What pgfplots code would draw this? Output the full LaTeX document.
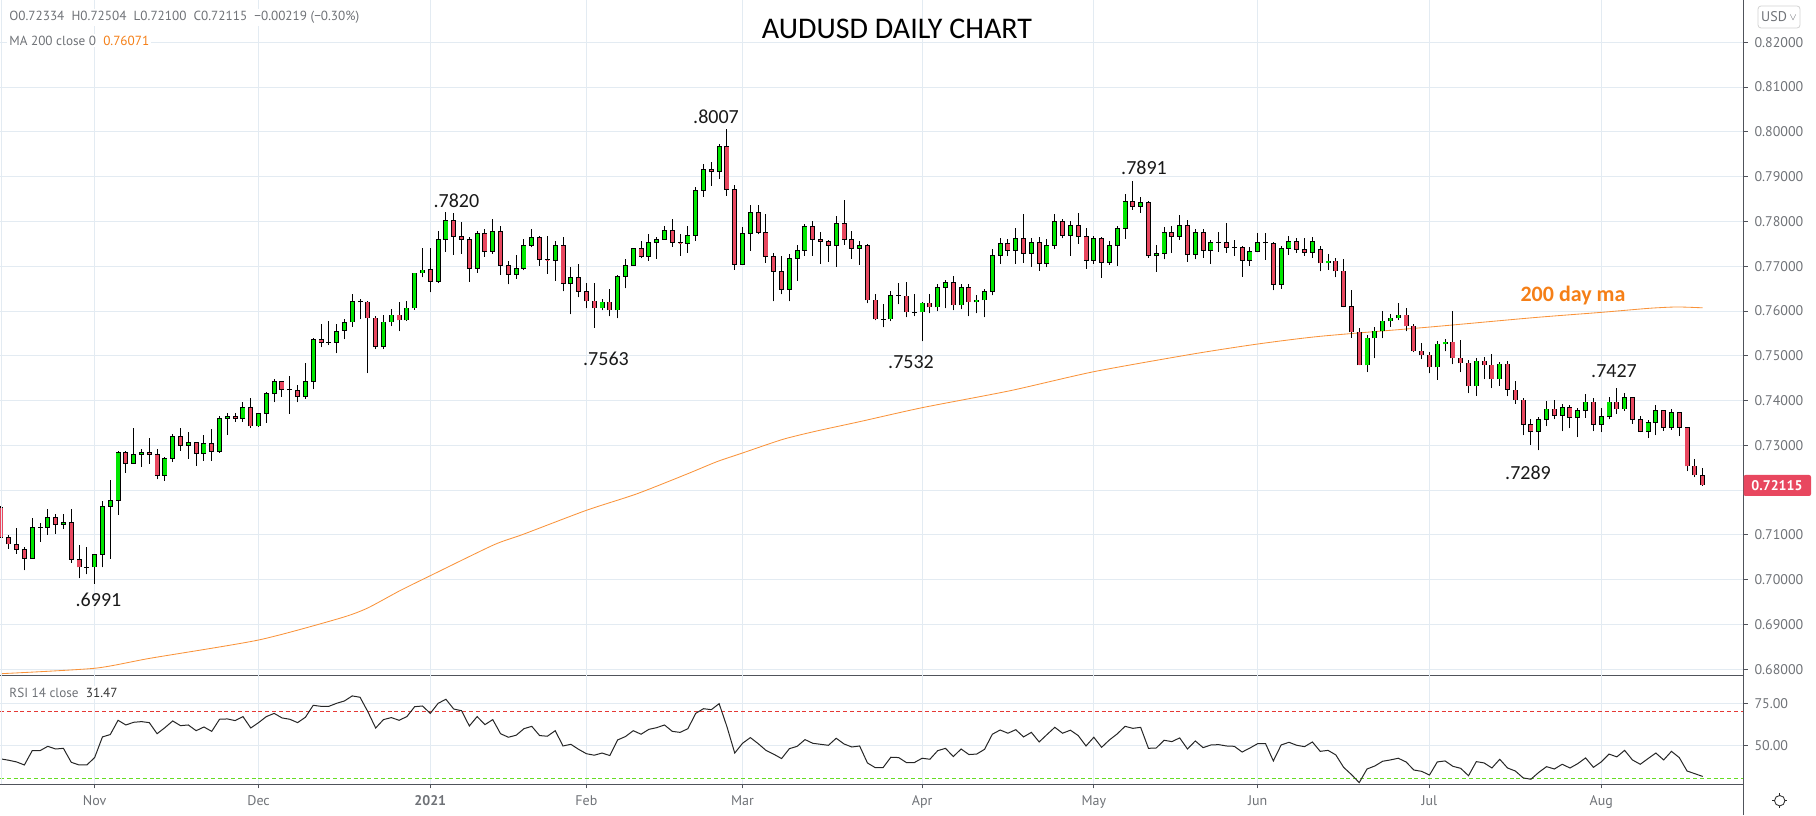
\documentclass[border=0pt]{standalone}
\usepackage{fontspec}
\usepackage{pgfplots}
\usepackage{pgfplotstable}
\pgfplotsset{compat=1.18}
\setmainfont{PT Sans}
\newfontfamily\calib{Carlito}
\definecolor{gridc}{HTML}{E3EBF2}
\definecolor{axisc}{HTML}{50535B}
\definecolor{textc}{HTML}{6F7277}
\definecolor{upc}{HTML}{00E600}
\definecolor{downc}{HTML}{E8475F}
\definecolor{mac}{HTML}{F9933A}
\definecolor{malab}{HTML}{F57F17}
\definecolor{obc}{HTML}{E53935}
\definecolor{osc}{HTML}{66DD22}

% i = trading day counted from the 1 Jan 2021 bar
\pgfplotstableread{
i o h l c
-55 0.71609 0.71646 0.70948 0.70948
-54 0.70948 0.70993 0.70689 0.70800
-53 0.70793 0.71149 0.70585 0.70681
-52 0.70681 0.70726 0.70206 0.70481
-51 0.70481 0.71371 0.70481 0.71171
-50 0.71171 0.71260 0.70852 0.71171
-49 0.71171 0.71572 0.71000 0.71394
-48 0.71394 0.71460 0.71030 0.71238
-47 0.71238 0.71460 0.71141 0.71282
-46 0.71282 0.71572 0.70384 0.70459
-45 0.70459 0.70770 0.70028 0.70281
-44 0.70281 0.70726 0.70117 0.70281
-43 0.70281 0.70570 0.69910 0.70570
-42 0.70570 0.71750 0.70273 0.71638
-41 0.71638 0.72225 0.70473 0.71772
-40 0.71772 0.72885 0.71453 0.72840
-39 0.72840 0.72863 0.72388 0.72596
-38 0.72596 0.73397 0.72596 0.72796
-37 0.72796 0.72929 0.72521 0.72840
-36 0.72840 0.73174 0.72588 0.72796
-35 0.72796 0.72929 0.72239 0.72328
-34 0.72328 0.72729 0.72210 0.72707
-33 0.72707 0.73263 0.72633 0.73197
-32 0.73197 0.73397 0.72878 0.72996
-31 0.72996 0.73308 0.72699 0.73063
-30 0.73063 0.73063 0.72544 0.72818
-29 0.72818 0.73241 0.72655 0.73041
-28 0.73041 0.73375 0.72655 0.72863
-27 0.72863 0.73664 0.72833 0.73597
-26 0.73597 0.73731 0.73234 0.73642
-25 0.73642 0.73731 0.73531 0.73597
-24 0.73597 0.73976 0.73531 0.73842
-23 0.73842 0.74065 0.73390 0.73434
-22 0.73434 0.73731 0.73419 0.73709
-21 0.73709 0.74198 0.73501 0.74154
-20 0.74154 0.74488 0.73968 0.74421
-19 0.74421 0.74421 0.74080 0.74243
-18 0.74243 0.74540 0.73701 0.74235
-17 0.74221 0.74354 0.73968 0.74087
-16 0.74087 0.74844 0.74042 0.74421
-15 0.74421 0.75400 0.74258 0.75363
-14 0.75363 0.75712 0.75193 0.75304
-13 0.75304 0.75786 0.75237 0.75300
-12 0.75304 0.75712 0.75059 0.75549
-11 0.75564 0.75823 0.75371 0.75749
-10 0.75757 0.76380 0.75653 0.76217
-9 0.76209 0.76269 0.75816 0.76200
-8 0.76202 0.76220 0.74614 0.75846
-7 0.75846 0.75890 0.75148 0.75200
-6 0.75200 0.75920 0.75148 0.75757
-5 0.75757 0.76046 0.75660 0.75912
-4 0.75912 0.76202 0.75549 0.75801
-3 0.75801 0.76224 0.75779 0.76068
-2 0.76068 0.76847 0.76024 0.76847
-1 0.76847 0.77404 0.76751 0.76914
0 0.76932 0.77399 0.76414 0.76666
1 0.76666 0.77777 0.76621 0.77599
2 0.77599 0.78200 0.77325 0.78022
3 0.78022 0.78177 0.77258 0.77666
4 0.77666 0.77977 0.77281 0.77599
5 0.77599 0.77644 0.76658 0.76955
6 0.76955 0.77777 0.76858 0.77733
7 0.77733 0.77822 0.77214 0.77325
8 0.77333 0.78044 0.77281 0.77777
9 0.77777 0.77888 0.76814 0.77021
10 0.77021 0.77110 0.76592 0.76821
11 0.76821 0.77251 0.76725 0.76955
12 0.76955 0.77599 0.76910 0.77466
13 0.77466 0.77822 0.77421 0.77644
14 0.77644 0.77666 0.77014 0.77155
15 0.77155 0.77681 0.76836 0.77140
16 0.77132 0.77555 0.76680 0.77466
17 0.77466 0.77644 0.76436 0.76621
18 0.76621 0.76977 0.75925 0.76755
19 0.76755 0.77044 0.76303 0.76443
20 0.76443 0.76621 0.76058 0.76221
21 0.76221 0.76621 0.75630 0.76065
22 0.76065 0.76266 0.76014 0.76199
23 0.76199 0.76488 0.75880 0.76021
24 0.76021 0.76799 0.75836 0.76777
25 0.76777 0.77155 0.76503 0.77021
26 0.77021 0.77399 0.77021 0.77399
27 0.77399 0.77555 0.77177 0.77221
28 0.77221 0.77710 0.77125 0.77533
29 0.77533 0.77644 0.77170 0.77599
30 0.77599 0.77888 0.77599 0.77799
31 0.77799 0.78044 0.77436 0.77533
32 0.77533 0.77710 0.77236 0.77518
33 0.77510 0.77888 0.77303 0.77688
34 0.77688 0.78778 0.77570 0.78689
35 0.78689 0.79289 0.78548 0.79155
36 0.79155 0.79333 0.78792 0.79111
37 0.79111 0.79733 0.78948 0.79667
38 0.79667 0.80070 0.78577 0.78711
39 0.78711 0.78822 0.76925 0.77044
40 0.77044 0.77866 0.77044 0.77733
41 0.77733 0.78377 0.77347 0.78200
42 0.78200 0.78377 0.77710 0.77755
43 0.77755 0.78155 0.77081 0.77221
44 0.77221 0.77288 0.76214 0.76888
45 0.76888 0.77221 0.76369 0.76488
46 0.76488 0.77266 0.76214 0.77177
47 0.77177 0.77466 0.76680 0.77355
48 0.77355 0.77933 0.77236 0.77888
49 0.77888 0.77999 0.77236 0.77599
50 0.77599 0.77755 0.77058 0.77555
51 0.77555 0.77577 0.77103 0.77466
52 0.77466 0.78111 0.76992 0.77955
53 0.77955 0.78489 0.77481 0.77599
54 0.77599 0.77777 0.77170 0.77399
55 0.77399 0.77555 0.77036 0.77466
56 0.77466 0.77488 0.76169 0.76243
57 0.76243 0.76377 0.75791 0.75821
58 0.75821 0.76162 0.75635 0.75821
59 0.75821 0.76443 0.75776 0.76354
60 0.76354 0.76621 0.76147 0.76347
61 0.76332 0.76643 0.75858 0.75976
62 0.75976 0.76376 0.75880 0.75976
63 0.75976 0.76199 0.75320 0.76176
64 0.76176 0.76376 0.75947 0.76087
65 0.76087 0.76599 0.75991 0.76532
66 0.76532 0.76688 0.76058 0.76643
67 0.76643 0.76777 0.76013 0.76132
68 0.76132 0.76599 0.76036 0.76532
69 0.76532 0.76599 0.75880 0.76199
70 0.76199 0.76354 0.75947 0.76243
71 0.76243 0.76488 0.75858 0.76443
72 0.76443 0.77377 0.76347 0.77243
73 0.77243 0.77621 0.77058 0.77510
74 0.77510 0.77599 0.77236 0.77355
75 0.77355 0.77844 0.77058 0.77621
76 0.77621 0.78155 0.77080 0.77288
77 0.77288 0.77621 0.76991 0.77532
78 0.77532 0.77644 0.76903 0.77066
79 0.77066 0.77599 0.76977 0.77466
80 0.77466 0.78155 0.77392 0.77999
81 0.77999 0.78044 0.77621 0.77688
82 0.77688 0.77999 0.77236 0.77910
83 0.77910 0.78177 0.77503 0.77666
84 0.77666 0.77844 0.76947 0.77132
85 0.77132 0.77666 0.77058 0.77621
86 0.77621 0.77644 0.76747 0.77088
87 0.77088 0.77555 0.77036 0.77466
88 0.77466 0.77888 0.77014 0.77844
89 0.77844 0.78622 0.77614 0.78444
90 0.78444 0.78910 0.78266 0.78333
91 0.78333 0.78555 0.78199 0.78422
92 0.78422 0.78466 0.77192 0.77236
93 0.77236 0.77466 0.76880 0.77288
94 0.77288 0.77866 0.77155 0.77755
95 0.77755 0.77888 0.77303 0.77666
96 0.77666 0.78133 0.77592 0.77910
97 0.77910 0.78021 0.77103 0.77266
98 0.77266 0.77821 0.77155 0.77755
99 0.77755 0.77821 0.77192 0.77355
100 0.77355 0.77577 0.77058 0.77532
101 0.77532 0.77755 0.77325 0.77532
102 0.77532 0.77955 0.77303 0.77421
103 0.77421 0.77577 0.77236 0.77421
104 0.77421 0.77444 0.76769 0.77132
105 0.77132 0.77421 0.77014 0.77332
106 0.77332 0.77732 0.77310 0.77532
107 0.77532 0.77732 0.77147 0.77518
108 0.77510 0.77532 0.76458 0.76599
109 0.76599 0.77444 0.76502 0.77399
110 0.77399 0.77666 0.77258 0.77555
111 0.77555 0.77621 0.77303 0.77377
112 0.77377 0.77621 0.77236 0.77310
113 0.77310 0.77644 0.77192 0.77555
114 0.77367 0.77456 0.76884 0.77070
115 0.77070 0.77278 0.76921 0.77114
116 0.77114 0.77189 0.76750 0.76891
117 0.76891 0.77166 0.76082 0.76104
118 0.76104 0.76468 0.75398 0.75532
119 0.75532 0.75621 0.74789 0.74796
120 0.74796 0.75465 0.74633 0.75398
121 0.75398 0.75643 0.74945 0.75554
122 0.75554 0.76000 0.75391 0.75777
123 0.75777 0.75933 0.75651 0.75844
124 0.75844 0.76178 0.75799 0.75911
125 0.75911 0.76067 0.75547 0.75666
126 0.75666 0.75710 0.75079 0.75108
127 0.75108 0.75287 0.74923 0.75019
128 0.75019 0.75086 0.74610 0.74752
129 0.74752 0.75331 0.74462 0.75264
130 0.75264 0.75376 0.75101 0.75309
131 0.75309 0.76000 0.74811 0.74952
132 0.74952 0.75353 0.74633 0.74841
133 0.74841 0.74908 0.74165 0.74328
134 0.74328 0.74952 0.74105 0.74885
135 0.74885 0.74975 0.74477 0.74796
136 0.74796 0.75041 0.74276 0.74484
137 0.74484 0.74863 0.74328 0.74819
138 0.74819 0.74885 0.74098 0.74246
139 0.74239 0.74440 0.73927 0.74016
140 0.74016 0.74061 0.73228 0.73459
141 0.73459 0.73593 0.73013 0.73303
142 0.73303 0.73637 0.72890 0.73570
143 0.73570 0.73994 0.73429 0.73815
144 0.73815 0.74016 0.73585 0.73659
145 0.73659 0.73927 0.73318 0.73838
146 0.73838 0.73905 0.73385 0.73615
147 0.73615 0.73838 0.73184 0.73771
148 0.73771 0.74150 0.73615 0.73971
149 0.73971 0.74061 0.73318 0.73459
150 0.73459 0.73838 0.73295 0.73637
151 0.73637 0.74083 0.73578 0.73971
152 0.73971 0.74280 0.73704 0.73815
153 0.73815 0.74172 0.73771 0.74061
154 0.74061 0.74083 0.73481 0.73570
155 0.73570 0.73659 0.73303 0.73303
156 0.73303 0.73570 0.73162 0.73503
157 0.73503 0.73905 0.73228 0.73771
158 0.73771 0.73771 0.73325 0.73392
159 0.73392 0.73815 0.73347 0.73726
160 0.73726 0.73749 0.73206 0.73392
161 0.73392 0.73414 0.72426 0.72537
162 0.72537 0.72701 0.72292 0.72337
163 0.72334 0.72504 0.72100 0.72115
}\candles

\pgfplotstableread{
i ma
-55 0.67902
-43 0.68023
-35.9 0.68246
-22 0.68654
-11.6 0.69139
-8.1 0.69362
-3.9 0.69755
0 0.70090
8.1 0.70776
11.9 0.71014
20 0.71550
26.4 0.71914
32.8 0.72354
36.7 0.72635
40 0.72830
45.2 0.73136
49.5 0.73321
55 0.73529
63 0.73841
74.3 0.74221
85 0.74645
97.7 0.75040
106 0.75263
114 0.75435
128.1 0.75643
141.3 0.75851
150.1 0.75971
156.2 0.76061
159.7 0.76090
163 0.76071
}\madata

\pgfplotstableread{
i rsi
-55 41.9
-54 41.1
-53 40.1
-52 38.3
-51 46.8
-50 46.8
-49 49.4
-48 47.8
-47 48.2
-46 39.9
-45 38.3
-44 38.3
-43 42.7
-42 55.0
-41 56.4
-40 64.9
-39 62.1
-38 63.7
-37 64.1
-36 63.5
-35 56.9
-34 60.5
-33 64.5
-32 61.7
-31 62.1
-30 58.7
-29 60.9
-28 58.3
-27 65.5
-26 65.7
-25 64.7
-24 67.1
-23 60.3
-22 63.5
-21 67.1
-20 69.0
-19 66.3
-18 65.5
-17 63.5
-16 66.7
-15 73.8
-14 73.2
-13 73.2
-12 75.0
-11 76.4
-10 79.4
-9 78.6
-8 70.0
-7 60.3
-6 65.3
-5 66.5
-4 64.9
-3 67.1
-2 73.0
-1 73.4
0 69.0
1 75.0
2 77.4
3 71.6
4 70.6
5 61.5
6 67.1
7 62.3
8 65.3
9 56.9
10 54.8
11 56.0
12 59.9
13 61.3
14 55.8
15 55.4
16 58.7
17 49.6
18 50.6
19 47.6
20 45.0
21 44.1
22 45.4
23 43.9
24 53.2
25 55.2
26 58.7
27 56.6
28 59.5
29 60.5
30 62.1
31 58.3
32 57.7
33 59.9
34 69.0
35 71.8
36 71.2
37 74.8
38 61.1
39 45.4
40 51.2
41 54.6
42 51.0
43 47.0
44 44.7
45 42.1
46 48.0
47 49.4
48 53.4
49 51.2
50 50.6
51 50.0
52 54.2
53 50.8
54 49.0
55 49.6
56 39.5
57 36.7
58 36.7
59 42.9
60 42.7
61 39.7
62 39.7
63 42.3
64 41.7
65 46.8
66 48.2
67 43.3
68 47.8
69 44.5
70 44.8
71 47.6
72 56.6
73 59.1
74 57.2
75 59.3
76 55.0
77 57.7
78 52.0
79 56.4
80 60.7
81 57.2
82 59.0
83 55.8
84 49.6
85 54.8
86 48.8
87 53.2
88 56.8
89 61.3
90 60.1
91 60.7
92 48.2
93 48.4
94 53.0
95 52.2
96 54.4
97 47.8
98 52.6
99 48.6
100 50.2
101 50.4
102 49.6
103 49.4
104 46.0
105 48.4
106 51.0
107 51.0
108 40.7
109 50.2
110 51.8
111 50.0
112 49.2
113 52.0
114 46.4
115 47.0
116 44.3
117 36.9
118 32.6
119 27.8
120 35.9
121 37.7
122 40.5
123 41.3
124 42.3
125 40.1
126 35.3
127 34.5
128 32.3
129 40.1
130 40.7
131 37.5
132 36.3
133 31.9
134 40.3
135 39.5
136 36.5
137 41.7
138 36.5
139 34.7
140 30.6
141 29.8
142 33.9
143 37.3
144 35.9
145 38.7
146 36.5
147 39.1
148 42.5
149 36.9
150 40.1
151 44.8
152 43.1
153 47.0
154 41.3
155 38.7
156 42.1
157 45.4
158 41.3
159 46.4
160 42.7
161 34.7
162 33.1
163 31.47
}\rsidata

\pgfplotsset{
  pane/.style={
    scale only axis, width=871.75pt, anchor=south west,
    xmin=-55.125, xmax=168.23,
    axis x line=bottom, axis y line=right,
    axis line style={-, color=axisc, line width=0.6pt},
    grid=major, grid style={gridc, line width=0.5pt},
    xtick={-43,-22,0,20,40,63,85,106,128,150},
    tick align=outside, major tick length=2pt,
    tick style={color=axisc, line width=0.5pt},
    tick label style={font=\fontsize{7}{8}\selectfont, text=textc},
    clip=true,
  },
  nomark/.style={only marks, mark size=0pt, mark options={draw=none, fill=none}},
  wick/.style={nomark,
    error bars/.cd, y dir=plus, y explicit, error mark=none,
    error bar style={black, line width=0.5pt}},
  shell/.style={nomark,
    error bars/.cd, y dir=plus, y explicit, error mark=none,
    error bar style={black, line width=2.5pt}},
  fillup/.style={nomark,
    error bars/.cd, y dir=plus, y explicit, error mark=none,
    error bar style={upc, line width=1.6pt}},
  filldn/.style={nomark,
    error bars/.cd, y dir=plus, y explicit, error mark=none,
    error bar style={downc, line width=1.6pt}},
}

\begin{document}
\begin{tikzpicture}
\useasboundingbox (0,0) rectangle (908pt,407.5pt);

% price pane
\begin{axis}[pane, at={(0pt,69.85pt)}, height=337.65pt,
    ymin=0.67866, ymax=0.82944,
    ytick={0.68,0.69,0.70,0.71,0.72,0.73,0.74,0.75,0.76,0.77,0.78,0.79,0.80,0.81,0.82},
    yticklabels={0.68000,0.69000,0.70000,0.71000,,0.73000,0.74000,0.75000,0.76000,0.77000,0.78000,0.79000,0.80000,0.81000,0.82000},
    xticklabels={},
    x tick style={draw=none},
]
\addplot[mac, line width=0.42pt, smooth, tension=0.4] table[x=i, y=ma] {\madata};
\addplot[wick] table[x=i, y=l, y error plus expr=\thisrow{h}-\thisrow{l}] {\candles};
\addplot[shell] table[x=i, y expr={min(\thisrow{o},\thisrow{c})-0.00008},
    y error plus expr={abs(\thisrow{c}-\thisrow{o})+0.00016}] {\candles};
\addplot[restrict expr to domain={\thisrow{c}-\thisrow{o}}{0.00015:1}, fillup]
    table[x=i, y expr={\thisrow{o}+0.00008},
    y error plus expr={\thisrow{c}-\thisrow{o}-0.00016}] {\candles};
\addplot[restrict expr to domain={\thisrow{o}-\thisrow{c}}{0.00015:1}, filldn]
    table[x=i, y expr={\thisrow{c}+0.00008},
    y error plus expr={\thisrow{o}-\thisrow{c}-0.00016}] {\candles};
\end{axis}

% RSI pane
\begin{axis}[pane, at={(0pt,15.35pt)}, height=54.5pt,
    ymin=26.79, ymax=91.67,
    ytick={50,75}, yticklabels={50.00,75.00},
    xticklabels={Nov,Dec,\textbf{2021},Feb,Mar,Apr,May,Jun,Jul,Aug},
]
\addplot[obc, line width=0.5pt, dash pattern=on 2pt off 1.4pt] coordinates {(-55.125,70) (168.23,70)};
\addplot[osc, line width=0.5pt, dash pattern=on 2pt off 1.4pt] coordinates {(-55.125,30) (168.23,30)};
\addplot[black!85, line width=0.5pt] table[x=i, y=rsi] {\rsidata};
\end{axis}

% frame pieces beyond the panes
\draw[axisc, line width=0.6pt] (871.75pt,0pt) -- (871.75pt,407.5pt);
\draw[gridc, line width=0.5pt] (0.5pt,15.35pt) -- (0.5pt,407.5pt);

% legends
\node[anchor=west, inner sep=1pt, fill=white, text=textc, font=\fontsize{6.6}{8}\selectfont] at (3.5pt,398.75pt)
  {O0.72334\hspace{3.6pt}H0.72504\hspace{3.6pt}L0.72100\hspace{3.6pt}C0.72115\hspace{3.6pt}−0.00219 (−0.30\%)};
\node[anchor=west, inner sep=1pt, fill=white, text=textc, font=\fontsize{6.6}{8}\selectfont] at (3.5pt,387.25pt)
  {MA 200 close 0\hspace{3.6pt}\textcolor{malab}{0.76071}};
\node[anchor=west, inner sep=1pt, fill=white, text=textc, font=\fontsize{6.6}{8}\selectfont] at (3.5pt,61.15pt)
  {RSI 14 close\hspace{3.6pt}\textcolor{black!80}{31.47}};

% annotations
\node[font=\calib\fontsize{15}{18}\selectfont, text=black] at (448.5pt,393pt) {AUDUSD DAILY CHART};
\foreach \lab/\xx/\yy in {.6991/49.25/107.5, .7820/228.2/307.25, .8007/358/349.25, .7563/303/228.25,
    .7532/455.5/226.25, .7891/572/323.75, .7427/807/222, .7289/764/171}
  \node[font=\calib\fontsize{10}{12}\selectfont, text=black!90] at (\xx pt,\yy pt) {\lab};
\node[font=\calib\bfseries\fontsize{11}{13}\selectfont, text=malab] at (786.5pt,259.5pt) {200 day ma};

% last price tag
\fill[downc, rounded corners=1pt] (871.75pt,159.5pt) rectangle (905.5pt,170pt);
\node[font=\bfseries\fontsize{7}{8}\selectfont, text=white] at (888.5pt,164.5pt) {0.72115};

% currency button
\draw[gray!35, line width=0.4pt, rounded corners=1.5pt] (879pt,393.5pt) rectangle (900pt,404.5pt);
\node[text=textc, font=\fontsize{7}{8}\selectfont] at (889.5pt,399pt) {USD\,\raisebox{0.5pt}{\scalebox{0.7}{$\vee$}}};

% settings icon
\draw[black!80, line width=0.45pt] (889.85pt,7.15pt) circle (2.6pt);
\foreach \a in {0,90,180,270}
  \draw[black!85, line width=0.6pt] (889.85pt,7.15pt) ++(\a:2.6pt) -- ++(\a:1.1pt);
\end{tikzpicture}
\end{document}
